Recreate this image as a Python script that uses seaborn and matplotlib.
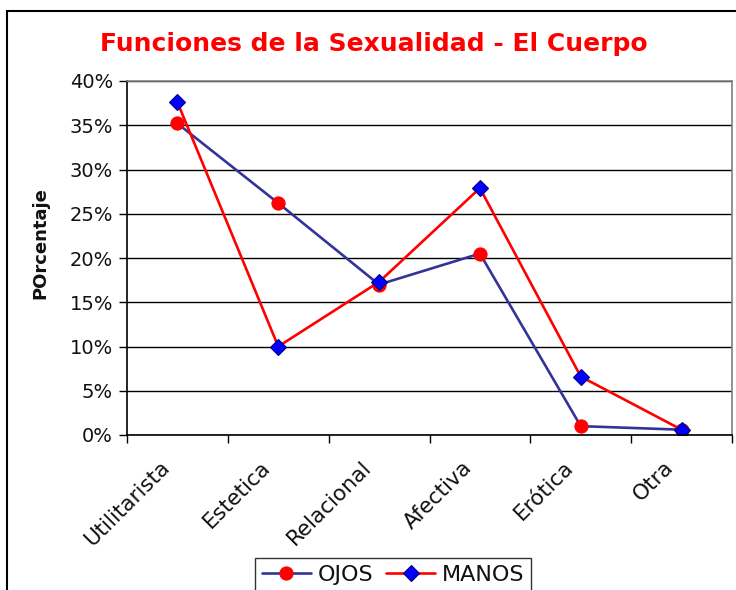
import matplotlib
matplotlib.use("Agg")
import matplotlib.pyplot as plt
import matplotlib.patches as mpatches
import matplotlib.transforms as mtransforms
import seaborn as sns
import pandas as pd
from matplotlib.ticker import FuncFormatter, MultipleLocator, FixedLocator

# data (percent)
categories = ["Utilitarista", "Estetica", "Relacional", "Afectiva", "Erótica", "Otra"]
ojos = [35.2, 26.2, 17.0, 20.5, 1.0, 0.6]
manos = [37.6, 10.0, 17.3, 27.9, 6.6, 0.6]
series_names = ["OJOS", "MANOS"]

sns.set_theme(style="white")
plt.rcParams["font.family"] = ["DejaVu Sans"]

df = pd.DataFrame({"cat": categories, "OJOS": ojos, "MANOS": manos})

fig = plt.figure(figsize=(7.36, 5.90), dpi=100)
ax = fig.add_axes([127 / 736, 1 - 435 / 590, 605 / 736, 354 / 590])

sns.lineplot(data=df, x="cat", y="OJOS", ax=ax, sort=False,
             color="#333399", lw=1.9, marker="o", markersize=9.5,
             markerfacecolor="#FF0000", markeredgecolor="#FF0000",
             label=series_names[0])
sns.lineplot(data=df, x="cat", y="MANOS", ax=ax, sort=False,
             color="#FF0000", lw=1.9, marker="D", markersize=8.5,
             markerfacecolor="#0000FF", markeredgecolor="#000080",
             markeredgewidth=0.8, label=series_names[1])

ax.set_xlim(-0.5, len(categories) - 0.5)
ax.set_ylim(0, 40)
ax.yaxis.set_major_locator(MultipleLocator(5))
ax.yaxis.set_major_formatter(FuncFormatter(lambda v, p: f"{v:.0f}%"))
ax.grid(axis="y", color="black", lw=1)
ax.set_axisbelow(True)

ax.xaxis.set_minor_locator(FixedLocator([i - 0.5 for i in range(len(categories) + 1)]))
ax.tick_params(axis="x", which="major", length=0, pad=16)
ax.tick_params(axis="x", which="minor", length=6, width=1, color="black",
               direction="out", bottom=True)
ax.tick_params(axis="y", length=6, width=1, color="black", direction="out",
               left=True, labelsize=14, pad=4)
ax.set_xticks(range(len(categories)))
ax.set_xticklabels(categories, rotation=45, ha="right",
                   rotation_mode="anchor", fontsize=15.5)
shift = mtransforms.ScaledTranslation(-18 / 100, 0, fig.dpi_scale_trans)
for lab in ax.get_xticklabels():
    lab.set_transform(lab.get_transform() + shift)
    lab.set_color("#111111")
for lab in ax.get_yticklabels():
    lab.set_color("#111111")

ax.set_xlabel("")
ax.set_ylabel("")
ax.spines["left"].set_color("black")
ax.spines["bottom"].set_color("black")
ax.spines["top"].set_color("#808080")
ax.spines["right"].set_color("#808080")
for s in ax.spines.values():
    s.set_linewidth(1.2)

ax.get_legend().remove()
handles, labels = ax.get_legend_handles_labels()
leg = fig.legend(handles, labels, loc="upper center",
                 bbox_to_anchor=(393 / 736, 1 - 547 / 590), ncol=2,
                 fontsize=16, frameon=True, fancybox=False,
                 edgecolor="black", handlelength=2.2, handletextpad=0.3,
                 columnspacing=0.6, borderpad=0.3)
leg.get_frame().set_linewidth(1.0)
for t in leg.get_texts():
    t.set_color("#111111")

fig.text(374 / 736, 1 - 44 / 590, "Funciones de la Sexualidad - El Cuerpo",
         ha="center", va="center", color="#FF0000", fontsize=18,
         fontweight="bold")
fig.text(40 / 736, 1 - 243 / 590, "POrcentaje", rotation=90,
         ha="center", va="center", fontsize=13, fontweight="bold",
         color="#111111")

# outer chart-area frame, running off the right and bottom edges
fig.patches.append(mpatches.Rectangle((7 / 736, -0.1), 1.2, 1.1 - 11 / 590,
                                      transform=fig.transFigure, fill=False,
                                      edgecolor="black", lw=1.5, clip_on=False))

fig.savefig("out.png", dpi=100)
